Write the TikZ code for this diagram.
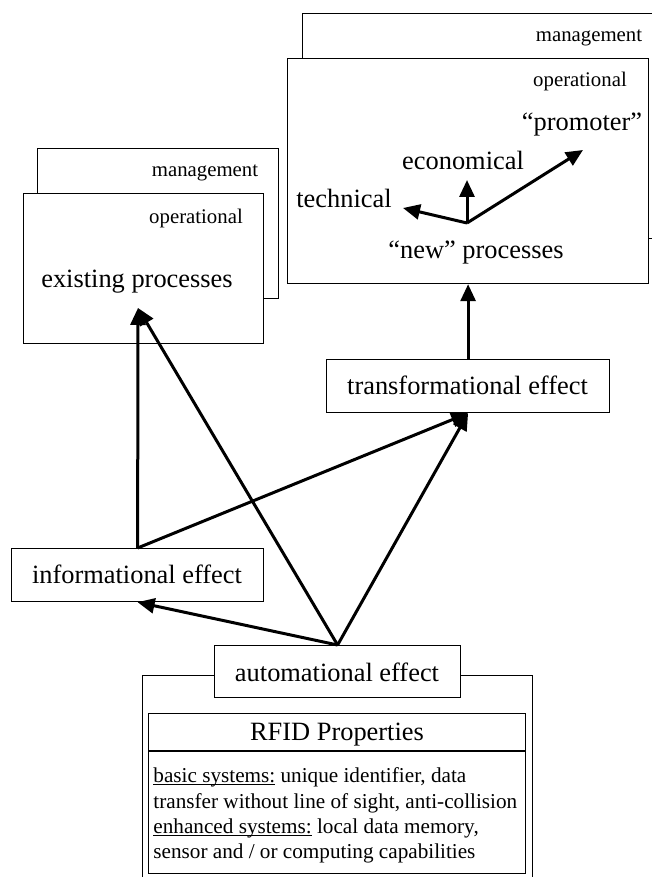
\documentclass[tikz,border=0pt]{standalone}
\usepackage{fontspec}
\setmainfont{Liberation Serif}
\usetikzlibrary{arrows.meta}

\newcommand{\ulsys}[1]{\underline{\smash{#1}}}

\tikzset{
  box/.style={draw, line width=0.6pt, fill=white, rectangle, inner sep=0pt, anchor=north west},
  lbl/.style={inner sep=0pt, anchor=base},
  big/.style={font=\fontsize{13.2}{15}\selectfont},
  body/.style={font=\fontsize{10.6}{12.6}\selectfont},
  small/.style={font=\fontsize{10.4}{12}\selectfont},
  arr/.style={line width=1.5pt, -{Triangle[length=8.5pt,width=7.5pt]}},
}

\begin{document}
\begin{tikzpicture}[x=0.5pt, y=-0.5pt]
\useasboundingbox (0,0) rectangle (652,877);

% Process levels, right
\node[box, minimum width=176pt, minimum height=112.5pt] (mgmtR) at (302,13) {};
\node[box, minimum width=180.5pt, minimum height=112.5pt] (operR) at (287,58) {};
\node[lbl, small] (mgmtRtxt) at (589,42) {management};
\node[lbl, small] (operRtxt) at (580,87) {operational};
\node[lbl, big] (promo) at (582,131) {``promoter''};
\node[lbl, big] (econ) at (463,170) {economical};
\node[lbl, big] (tech) at (344,207) {technical};
\node[lbl, big] (newproc) at (476,258) {``new'' processes};
\coordinate (hub) at (467,223);
\coordinate (promotip) at (583,150);
\coordinate (econtip) at (467,180);
\coordinate (techtip) at (403,208);

% Process levels, left
\node[box, minimum width=120.5pt, minimum height=75pt] (mgmtL) at (37,148) {};
\node[box, minimum width=120pt, minimum height=75pt] (operL) at (23,193) {};
\node[lbl, small] (mgmtLtxt) at (205,177) {management};
\node[lbl, small] (operLtxt) at (196,223) {operational};
\node[lbl, big] (exproc) at (137,287) {existing processes};
\coordinate (extip) at (138,308);

% Effects
\node[box, minimum width=141.5pt, minimum height=26.5pt] (trans) at (326,359) {};
\node[lbl, big] (transtxt) at (467.5,394) {transformational effect};
\node[box, minimum width=126pt, minimum height=26.5pt] (inf) at (11,548) {};
\node[lbl, big] (inftxt) at (137,583) {informational effect};

% RFID base
\node[box, minimum width=195pt, minimum height=110pt] (rfidouter) at (142,675) {};
\node[box, minimum width=123pt, minimum height=26pt] (auto) at (214,645) {};
\node[lbl, big] (autotxt) at (337,681) {automational effect};
\node[box, minimum width=188.5pt, minimum height=80pt] (rfid) at (148,713) {};
\draw[line width=0.6pt] (rfid.west |- 0,751) coordinate (sepL) -- (rfid.east |- sepL);
\node[lbl, big] (rfidtitle) at (337,740) {RFID Properties};
\node[lbl, body, anchor=base west] (basic) at (153,782) {\ulsys{basic systems:} unique identifier, data};
\node[lbl, body, anchor=base west] (basic2) at (153,808) {transfer without line of sight, anti-collision};
\node[lbl, body, anchor=base west] (enh) at (153,833) {\ulsys{enhanced systems:} local data memory,};
\node[lbl, body, anchor=base west] (enh2) at (153,858) {sensor and / or computing capabilities};

% Effect arrows
\draw[arr] (inf.north) -- (extip);
\draw[arr] (auto.north) -- (extip);
\draw[arr] (inf.north) -- (trans.south);
\draw[arr] (auto.north) -- (trans.south);
\draw[arr] (auto.north) -- (inf.south);
\draw[arr] (trans.north) -- (operR.south);
\draw[arr] (hub) -- (promotip);
\draw[arr] (hub) -- (econtip);
\draw[arr] (hub) -- (techtip);

\end{tikzpicture}
\end{document}
